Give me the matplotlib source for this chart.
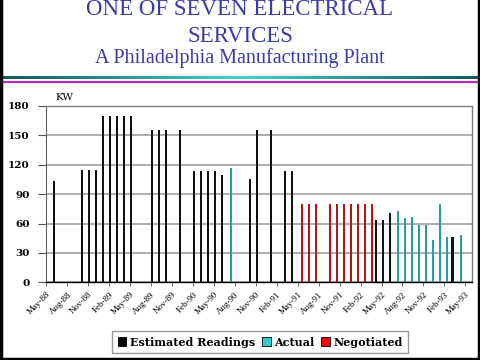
import matplotlib
matplotlib.use('Agg')
import matplotlib.pyplot as plt
import numpy as np
from matplotlib.patches import Patch
from matplotlib.lines import Line2D

# ---- data ----
tick_labels = ['May-88', 'Aug-88', 'Nov-88', 'Feb-89', 'May-89', 'Aug-89', 'Nov-89',
               'Feb-90', 'May-90', 'Aug-90', 'Nov-90', 'Feb-91', 'May-91', 'Aug-91',
               'Nov-91', 'Feb-92', 'May-92', 'Aug-92', 'Nov-92', 'Feb-93', 'May-93']
# month index counted from May-88
est_months = [1, 5, 6, 7, 8, 9, 10, 11, 12, 15, 16, 17, 19, 21, 22, 23, 24, 25,
              29, 30, 32, 34, 35, 47, 48, 49, 58]
est_values = [103, 115, 115, 115, 170, 170, 170, 170, 170, 155, 155, 155, 155,
              114, 114, 114, 114, 110, 105, 155, 155, 114, 114, 64, 64, 71, 46]
act_months = [26, 50, 51, 52, 53, 54, 55, 56, 57, 59]
act_values = [117, 73, 66, 67, 58, 58, 43, 80, 46, 48]
neg_months = [36, 37, 38, 40, 41, 42, 43, 44, 45, 46]
neg_values = [80, 80, 80, 80, 80, 80, 80, 80, 80, 80]
series_names = ['Estimated Readings', 'Actual', 'Negotiated']

# ---- styles ----
bar_colors = ['#111111', '#2a9c9c', '#b01818']
legend_colors = ['#000000', '#33cccc', '#ff0000']
title_color = '#3a3aa8'
serif = ['Liberation Serif', 'DejaVu Serif']

fig = plt.figure(figsize=(4.8, 3.6), dpi=100)
W, H = 480, 360

def fx(px):
    return px / W

def fy(py):
    return 1 - py / H

ax = fig.add_axes([fx(46.3), fy(282.3), fx(472.3 - 46.3), (282.3 - 106) / H])

center = 0.4
off = 0.24
bw = 0.3
ax.bar(np.array(est_months) + center - off, est_values, width=bw, color=bar_colors[0], zorder=3)
ax.bar(np.array(act_months) + center, act_values, width=bw, color=bar_colors[1], zorder=3)
ax.bar(np.array(neg_months) + center + off, neg_values, width=bw, color=bar_colors[2], zorder=3)

ax.set_xlim(0, 61)
ax.set_ylim(0, 180)
ax.set_yticks(np.arange(0, 181, 30))
ax.set_xticks(np.arange(0, 61, 3))
ax.set_xticklabels(tick_labels, rotation=45, ha='right', va='top',
                   rotation_mode='anchor', fontsize=6.5, family=serif)
for lab in ax.get_yticklabels():
    lab.set_family(['DejaVu Serif'])
    lab.set_fontsize(7.5)
    lab.set_fontweight('bold')
ax.tick_params(axis='y', length=6, width=0.8, color='#555555', pad=6)
ax.tick_params(axis='x', length=3, width=0.6, color='#555555', pad=3)
ax.yaxis.grid(True, color='#a8a8a8', lw=1.3, zorder=0)
ax.set_axisbelow(True)
for s in ['top', 'right']:
    ax.spines[s].set_color('#808080')
    ax.spines[s].set_linewidth(1.0)
ax.spines['left'].set_color('#606060')
ax.spines['bottom'].set_color('#000000')
ax.spines['bottom'].set_linewidth(1.0)

fig.text(fx(55), fy(100), 'KW', fontsize=7.5, family=['DejaVu Serif'], va='baseline', ha='left')

# ---- titles ----
fig.text(0.5, fy(15), 'ONE OF SEVEN ELECTRICAL', fontsize=16.5, family=serif,
         color=title_color, ha='center', va='baseline')
fig.text(0.5, fy(41.7), 'SERVICES', fontsize=16.5, family=serif,
         color=title_color, ha='center', va='baseline')
fig.text(0.5, fy(63), 'A Philadelphia Manufacturing Plant', fontsize=14.5, family=serif,
         color=title_color, ha='center', va='baseline')

# ---- decorative lines ----
lax = fig.add_axes([0, fy(79.5), 1, 3.5 / H])
grad = np.linspace(0, 1, 480)
tcol = np.abs(grad - 0.5) * 2
c_dark = np.array([0.05, 0.35, 0.35])
c_light = np.array([0.3, 0.8, 0.8])
img = (c_light[None, :] * (1 - tcol[:, None]) + c_dark[None, :] * tcol[:, None])[None, :, :]
lax.imshow(img, aspect='auto', extent=[0, 1, 0, 1])
lax.axis('off')
fig.add_artist(Line2D([0, 1], [fy(81.5), fy(81.5)], color='#b02cb0', lw=1.6,
                      transform=fig.transFigure))

# ---- frame ----
for xs, ys in [([0.002, 0.002], [0, 1]), ([0.998, 0.998], [0, 1]), ([0, 1], [0.003, 0.003])]:
    fig.add_artist(Line2D(xs, ys, color='black', lw=2.5, transform=fig.transFigure))

# ---- legend ----
handles = [Patch(facecolor=c, edgecolor='black', lw=0.6) for c in legend_colors]
leg = fig.legend(handles, series_names, loc='center', bbox_to_anchor=(fx(260), fy(342)),
                 ncol=3, frameon=True, fancybox=False, edgecolor='#808080',
                 prop={'family': 'DejaVu Serif', 'weight': 'bold', 'size': 8},
                 handlelength=0.8, handleheight=0.8, handletextpad=0.3,
                 columnspacing=0.6, borderpad=0.5)
leg.get_frame().set_linewidth(1.0)

fig.savefig('out.png', dpi=100)
